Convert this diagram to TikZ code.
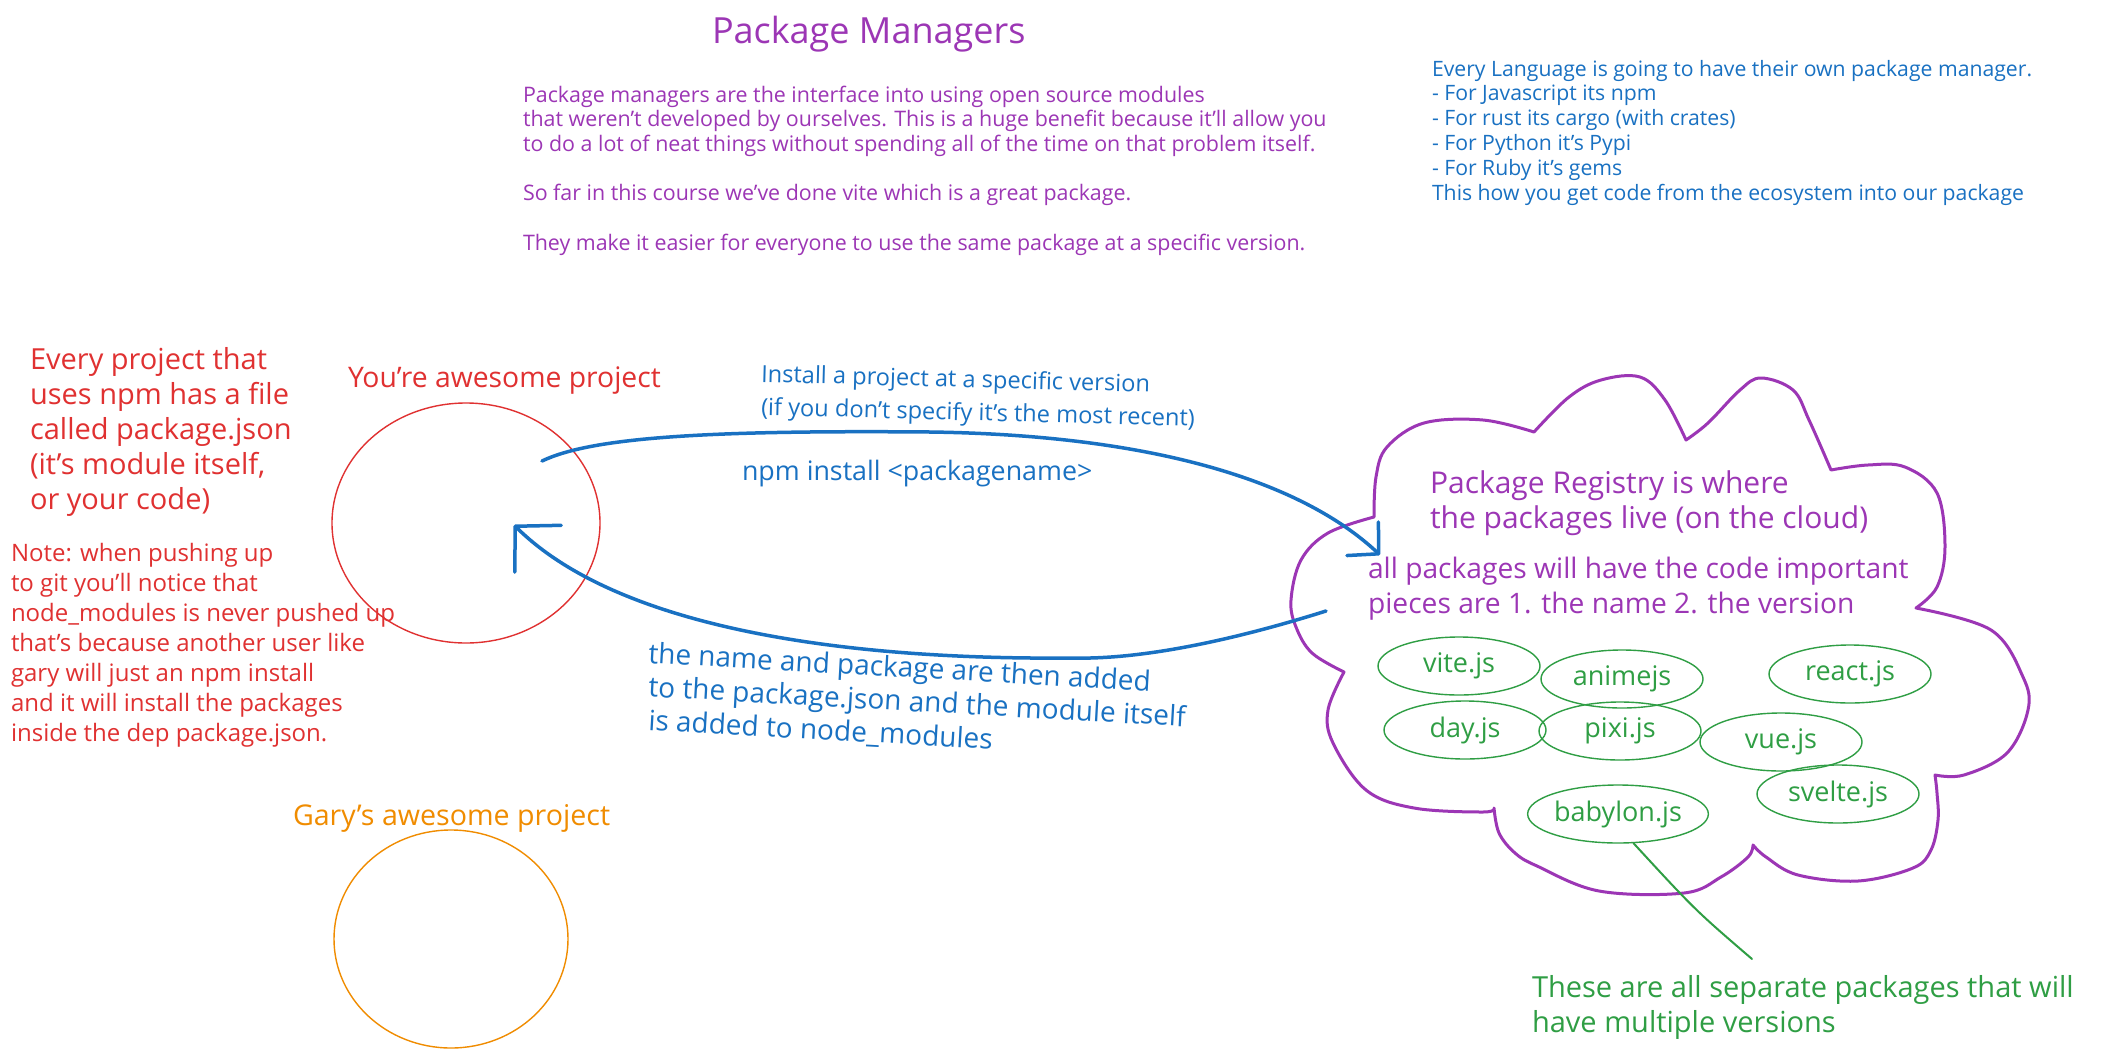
\documentclass[tikz,border=0pt]{standalone}
\usepackage{fontspec}
\setmainfont{Open Sans}
\usetikzlibrary{arrows.meta,shapes.geometric}
\definecolor{exred}{HTML}{E03131}
\definecolor{exblue}{HTML}{1971C2}
\definecolor{exviolet}{HTML}{9C36B5}
\definecolor{exgreen}{HTML}{2F9E44}
\definecolor{exorange}{HTML}{F08C00}
\newcommand\tblock[6]{\foreach \tline [count=\ti from 0] in {#6}{\node[txt,#2] (#1-\ti) at (#3,{#4+\ti*#5}) {\tline};}}
\tikzset{
  txt/.style={anchor=base west, inner sep=0pt, outer sep=0pt},
  fsz/.style={font=\fontsize{#1}{#1}\selectfont},
  pkg/.style={ellipse, draw=exgreen, line width=1.4pt, inner sep=0pt, minimum width=162pt, minimum height=58pt, text=exgreen, font=\fontsize{27}{32}\selectfont},
  proj/.style={ellipse, line width=1.4pt, inner sep=0pt},
  barrow/.style={draw=exblue, line width=3.5pt, line cap=round, line join=round},
  cloud/.style={draw=exviolet, line width=3pt, line cap=round, line join=round},
}
\begin{document}
\begin{tikzpicture}[x=1pt,y=-1pt]
\useasboundingbox[fill=white] (0,0) rectangle (2118,1058);

% title and header texts
\node[txt, text=exviolet, fsz=36] (title) at (712,43) {Package Managers};
\tblock{para}{fsz=21.4,text=exviolet}{523}{102}{24.7}{{Package managers are the interface into using open source modules},{that weren't developed by ourselves. This is a huge benefit because it'll allow you},{to do a lot of neat things without spending all of the time on that problem itself.}}
\node[txt,fsz=21.4,text=exviolet] (para-3) at (523,200.8) {So far in this course we've done vite which is a great package.};
\node[txt,fsz=21.4,text=exviolet] (para-4) at (523,250) {They make it easier for everyone to use the same package at a specific version.};
\tblock{lang}{fsz=21.2,text=exblue}{1432}{76}{24.8}{{Every Language is going to have their own package manager.},{- For Javascript its npm},{- For rust its cargo (with crates)},{- For Python it's Pypi},{- For Ruby it's gems},{This how you get code from the ecosystem into our package}}

% left notes
\tblock{every}{fsz=29,text=exred}{30}{369}{35}{{Every project that},{uses npm has a file},{called package.json},{(it's module itself,},{or your code)}}
\tblock{note}{fsz=24,text=exred}{11}{561}{30}{{Note: when pushing up},{to git you'll notice that},{node\_modules is never pushed up},{that's because another user like},{gary will just an npm install},{and it will install the packages},{inside the dep package.json.}}

% projects
\node[txt,fsz=28.3,text=exred] (youlbl) at (348,387) {You're awesome project};
\node[proj, draw=exred, minimum width=268pt, minimum height=240pt] (you) at (466,523) {};
\node[txt,fsz=28.6,text=exorange] (garylbl) at (293,825) {Gary's awesome project};
\node[proj, draw=exorange, minimum width=234pt, minimum height=218pt] (gary) at (451,939) {};

% arrow texts
\tblock{inst}{fsz=23.6,text=exblue,rotate=-1.5}{761}{382}{33}{{Install a project at a specific version},{(if you don't specify it's the most recent)}}
\node[txt,fsz=26.8,text=exblue] (npmi) at (742,480) {npm install <packagename>};
\tblock{added}{fsz=28,text=exblue,rotate=-3.2}{648}{663}{33.5}{{the name and package are then added},{to the package.json and the module itself},{is added to node\_modules}}

% registry cloud
\draw[cloud]
  plot[smooth,tension=.6] coordinates {(1534,432) (1569,397) (1601,380) (1640,377) (1665,400) (1686,440)}
  -- plot[smooth,tension=.6] coordinates {(1686,440) (1708,423) (1740,390) (1761,378) (1793,390) (1809,420) (1831,470)}
  -- plot[smooth,tension=.6] coordinates {(1831,470) (1868,465) (1905,467) (1937,493) (1945,547) (1937,587) (1916,608)}
  -- plot[smooth,tension=.6] coordinates {(1916,608) (1991,630) (2023,677) (2028,710) (2007,753) (1964,775) (1935,775)}
  -- plot[smooth,tension=.6] coordinates {(1935,775) (1937,793) (1938,820) (1931,850) (1913,868) (1858,881) (1798,875) (1766,857) (1753,845)}
  -- plot[smooth,tension=.6] coordinates {(1753,845) (1748,857) (1721,877) (1684,893) (1599,891) (1537,866) (1515,853) (1499,833) (1494,808)}
  -- plot[smooth,tension=.6] coordinates {(1494,808) (1483,812) (1414,808) (1366,790) (1333,743) (1328,710) (1344,672)}
  -- plot[smooth,tension=.6] coordinates {(1344,672) (1312,653) (1296,627) (1291,600) (1301,560) (1328,533) (1374,517)}
  -- plot[smooth,tension=.6] coordinates {(1374,517) (1376,477) (1387,447) (1424,423) (1483,420) (1534,432)} -- cycle;

\tblock{reg}{fsz=30,text=exviolet}{1430}{493}{35}{{Package Registry is where},{the packages live (on the cloud)}}
\tblock{imp}{fsz=28.2,text=exviolet}{1368}{578}{35}{{all packages will have the code important},{pieces are 1. the name 2. the version}}

% packages
\node[pkg] (vite) at (1459,666) {vite.js};
\node[pkg] (anime) at (1622,679) {animejs};
\node[pkg] (react) at (1850,674) {react.js};
\node[pkg] (day) at (1465,730) {day.js};
\node[pkg] (pixi) at (1620,731) {pixi.js};
\node[pkg] (vue) at (1781,742) {vue.js};
\node[pkg] (svelte) at (1838,794) {svelte.js};
\node[pkg] (babylon) at (1618,814) {babylon.js};

\tblock{sep}{fsz=29,text=exgreen}{1532}{997}{35}{{These are all separate packages that will},{have multiple versions}}
\coordinate (sepend) at (1752,959);
\draw[exgreen, line width=2pt, line cap=round] (babylon.-62) .. controls (1695,910) .. (sepend);

% arrows
\coordinate (youout) at (542,461);
\coordinate (regin) at (1380,555);
\coordinate (regout) at (1326,611);
\coordinate (youin) at (514,525);
\draw[barrow, -{Straight Barb[length=22pt,width=46pt,round]}] (youout) .. controls (590,438) and (700,430) .. (930,432) .. controls (1150,435) and (1300,480) .. (regin);
\draw[barrow, -{Straight Barb[length=32pt,width=66pt,round]}] (regout) .. controls (1250,635) and (1150,660) .. (1072,658) .. controls (850,660) and (620,630) .. (youin);
\end{tikzpicture}
\end{document}
